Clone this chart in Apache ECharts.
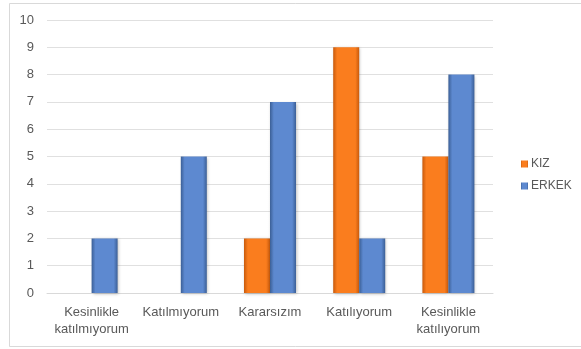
<!DOCTYPE html>
<html>
<head>
<meta charset="utf-8">
<script src="https://cdn.jsdelivr.net/npm/echarts@6/dist/echarts.min.js"></script>
<style>
    html, body { margin: 0; padding: 0; background: #fff; }
    #chart { width: 581px; height: 349px; }
</style>
</head>
<body>
<div id="chart"></div>
<script>
    var categories = ['Kesinlikle\nkatılmıyorum', 'Katılmıyorum', 'Kararsızım', 'Katılıyorum', 'Kesinlikle\nkatılıyorum'];
    var kizValues = [0, 0, 2, 9, 5];
    var erkekValues = [2, 5, 7, 2, 8];
    var yTicks = [0, 10, 1];

    var chart = echarts.init(document.getElementById('chart'));

    function barColor(dark, light) {
        return new echarts.graphic.LinearGradient(0, 0, 1, 0, [
            {offset: 0, color: dark},
            {offset: 0.15, color: light},
            {offset: 0.85, color: light},
            {offset: 1, color: dark}
        ]);
    }

    var labelFont = {
        color: '#595959',
        fontFamily: 'Liberation Sans',
        fontSize: 13
    };

    var option = {
        animation: false,
        backgroundColor: '#fff',
        graphic: [{
            type: 'rect',
            shape: {x: 9.5, y: 3.5, width: 580, height: 343},
            style: {fill: 'none', stroke: '#d9d9d9', lineWidth: 1}
        }],
        grid: {
            left: 47,
            right: 88,
            top: 20,
            bottom: 56
        },
        legend: {
            orient: 'vertical',
            left: 516,
            top: 153,
            itemWidth: 7,
            itemHeight: 7,
            itemGap: 10,
            icon: 'rect',
            textStyle: {color: '#595959', fontFamily: 'Liberation Sans', fontSize: 12, padding: [0, 0, 0, -2]},
            data: ['KIZ', 'ERKEK']
        },
        xAxis: {
            type: 'category',
            data: categories,
            axisTick: {show: false},
            axisLine: {lineStyle: {color: '#d9d9d9'}},
            axisLabel: Object.assign({margin: 11, lineHeight: 17, interval: 0}, labelFont)
        },
        yAxis: {
            type: 'value',
            min: yTicks[0],
            max: yTicks[1],
            interval: yTicks[2],
            axisLine: {show: false},
            axisTick: {show: false},
            splitLine: {lineStyle: {color: '#e0e0e0'}},
            axisLabel: Object.assign({margin: 13}, labelFont)
        },
        series: [{
            name: 'KIZ',
            type: 'bar',
            data: kizValues,
            barWidth: 26,
            barGap: '0%',
            itemStyle: {
                color: barColor('#c85a0c', '#fa7d1e'),
                shadowColor: 'rgba(0,0,0,0.25)',
                shadowBlur: 3,
                shadowOffsetX: 1,
                shadowOffsetY: 1
            }
        }, {
            name: 'ERKEK',
            type: 'bar',
            data: erkekValues,
            barWidth: 26,
            itemStyle: {
                color: barColor('#3b5f96', '#5d89d0'),
                shadowColor: 'rgba(0,0,0,0.25)',
                shadowBlur: 3,
                shadowOffsetX: 1,
                shadowOffsetY: 1
            }
        }]
    };

    chart.setOption(option);
</script>
</body>
</html>
